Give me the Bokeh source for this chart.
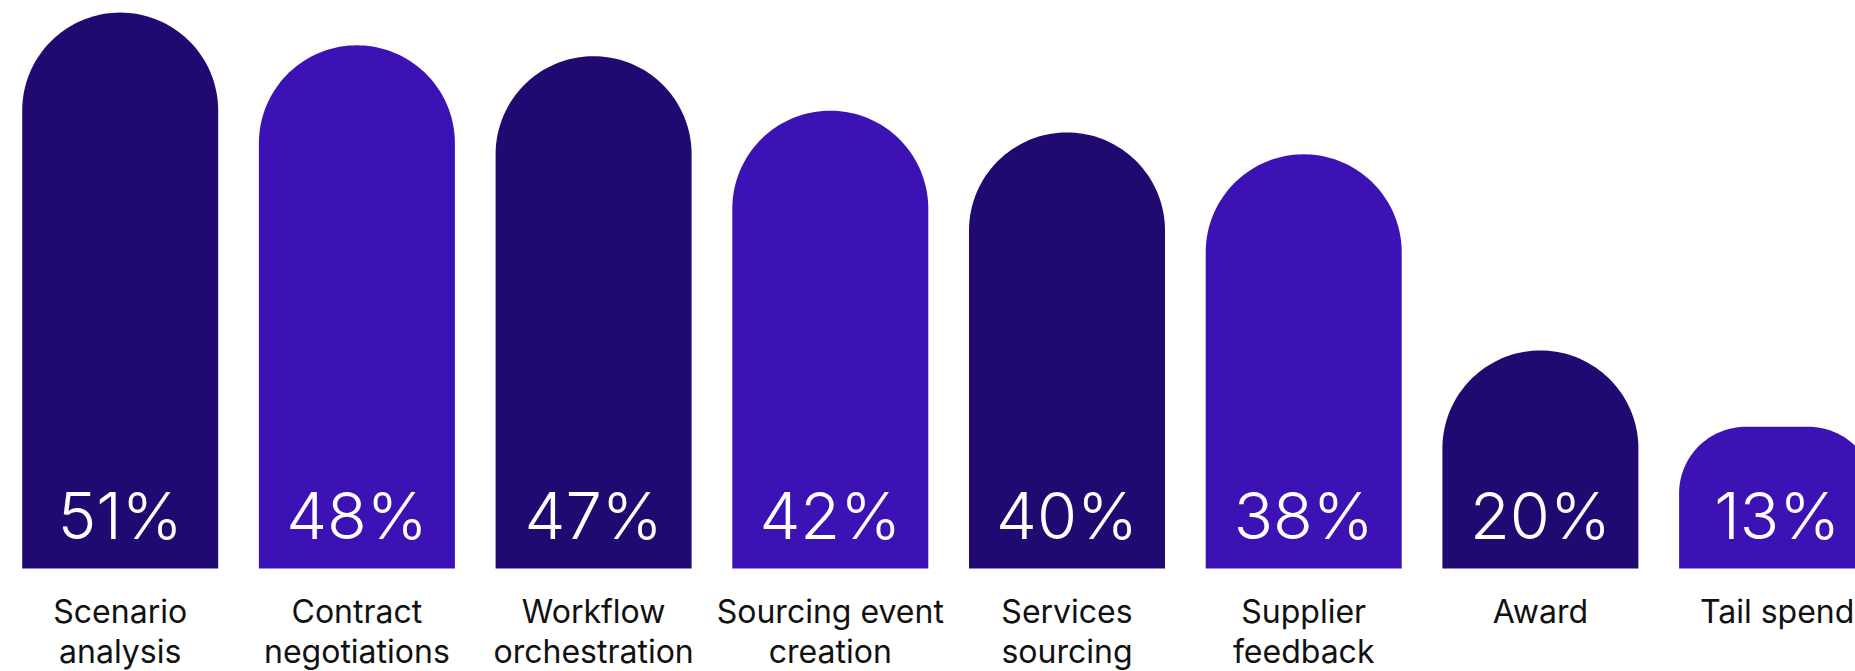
import numpy as np
from bokeh.plotting import figure
from bokeh.models import Range1d, ColumnDataSource
from bokeh.embed import file_html
from bokeh.resources import INLINE
from bokeh.core.properties import value

# ---- data ----
categories = ["Scenario\nanalysis", "Contract\nnegotiations", "Workflow\norchestration",
              "Sourcing event\ncreation", "Services\nsourcing", "Supplier\nfeedback",
              "Award", "Tail spend"]
values = [51, 48, 47, 42, 40, 38, 20, 13]
value_labels = ["51%", "48%", "47%", "42%", "40%", "38%", "20%", "13%"]
bar_colors = ["#200A72", "#3D12B5", "#200A72", "#3D12B5",
              "#200A72", "#3D12B5", "#200A72", "#3D12B5"]

# ---- layout constants (pixels) ----
W, H = 1855, 671
PITCH = 236.7          # px per category
PX_PER_PCT = 10.9      # px per percentage point
BAR_W = 196.0          # bar width px
FIRST_CENTER = 119.7   # px of first bar center
BASELINE = 568.0       # px from top of zero line

x0 = -FIRST_CENTER / PITCH
x1 = x0 + W / PITCH
y0 = -(H - BASELINE) / PX_PER_PCT
y1 = y0 + H / PX_PER_PCT

p = figure(width=W, height=H, output_backend="svg", toolbar_location=None,
           x_range=Range1d(x0, x1), y_range=Range1d(y0, y1),
           x_axis_location=None, y_axis_location=None, min_border=0)
p.outline_line_color = None
p.grid.visible = False
p.background_fill_color = "white"
p.border_fill_color = "white"

# rounded-top bar polygons built from the values
xs, ys = [], []
hw = BAR_W / 2 / PITCH
for i, v in enumerate(values):
    h_px = v * PX_PER_PCT
    r_px = min(BAR_W / 2, h_px * 0.47)
    rx = r_px / PITCH
    ry = r_px / PX_PER_PCT
    t1 = np.linspace(np.pi, np.pi / 2, 40)
    t2 = np.linspace(np.pi / 2, 0, 40)
    cxl, cxr, cy = i - hw + rx, i + hw - rx, v - ry
    px = [i - hw] + list(cxl + rx * np.cos(t1)) + list(cxr + rx * np.cos(t2)) + [i + hw]
    py = [0] + list(cy + ry * np.sin(t1)) + list(cy + ry * np.sin(t2)) + [0]
    xs.append(px)
    ys.append(py)

src = ColumnDataSource(dict(xs=xs, ys=ys, color=bar_colors))
p.patches("xs", "ys", source=src, fill_color="color", line_color=None)

idx = list(range(len(values)))
p.text(x=idx, y=[0] * len(idx), text=value_labels, text_align="center",
       text_baseline="alphabetic", y_offset=-53, text_color="white",
       text_font=value("'Inter Light', Inter"), text_font_size="65px")

line1 = [c.split("\n")[0] for c in categories]
line2 = [c.split("\n")[1] if "\n" in c else "" for c in categories]
p.text(x=idx, y=[0] * len(idx), text=line1, text_align="center",
       text_baseline="alphabetic", y_offset=43, text_color="#111111",
       text_font=value("Inter"), text_font_size="32px")
p.text(x=idx, y=[0] * len(idx), text=line2, text_align="center",
       text_baseline="alphabetic", y_offset=83, text_color="#111111",
       text_font=value("Inter"), text_font_size="32px")

open("out.html", "w").write(file_html(p, INLINE))
